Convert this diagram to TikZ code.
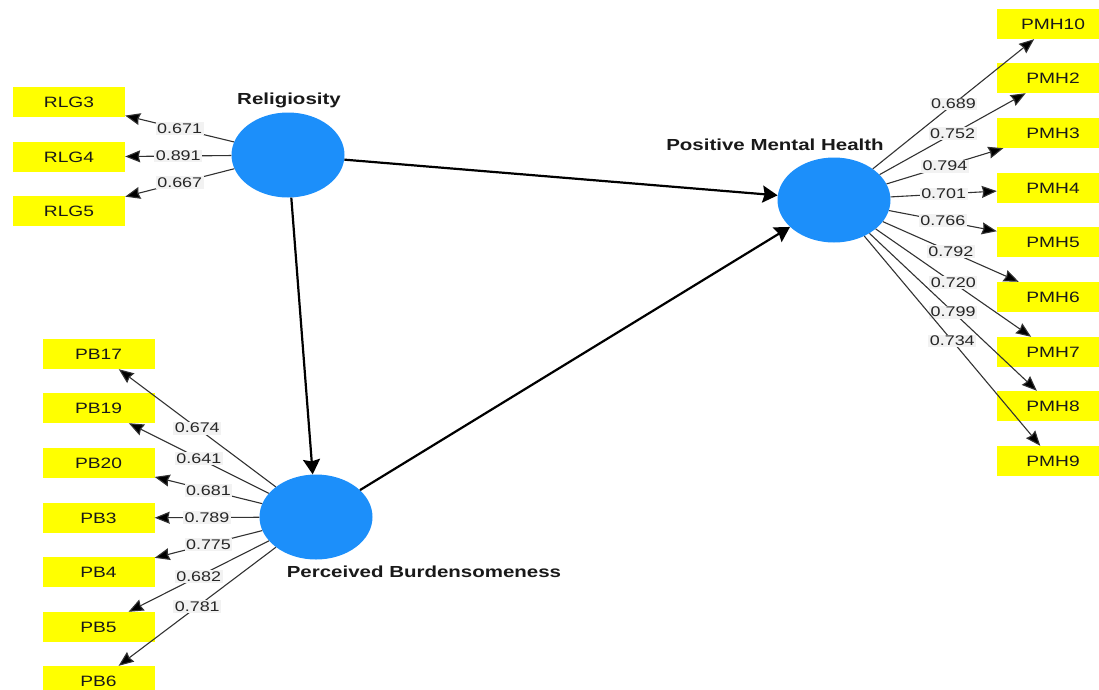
\documentclass[tikz,border=0pt]{standalone}
\usepackage{fontspec}
\setmainfont{Liberation Sans}[FakeStretch=1.28]
\usetikzlibrary{arrows.meta,shapes.geometric}
\definecolor{lvblue}{RGB}{28,143,250}
\definecolor{mvyellow}{RGB}{255,255,0}
\definecolor{linegray}{RGB}{50,50,50}
\definecolor{labbg}{RGB}{242,242,242}
\begin{document}
\begin{tikzpicture}[x=1pt,y=-1pt,
 lv/.style={ellipse, fill=lvblue, minimum width=113pt, minimum height=85pt, inner sep=0pt},
 mv/.style={rectangle, fill=mvyellow, minimum width=112pt, minimum height=30pt, inner sep=0pt, font=\fontsize{15}{18}\selectfont, text=black!90},
 lvname/.style={font=\fontsize{16}{19}\selectfont\bfseries, text=black!90},
 loadline/.style={draw=linegray, line width=1.1pt, -{Stealth[inset=1.5pt,length=15pt,width=12pt,fill=black]}},
 semline/.style={draw=black, line width=2.2pt, -{Stealth[inset=2pt,length=15pt,width=17pt]}},
 lab/.style={fill=labbg, inner sep=1.5pt, font=\fontsize{14}{16}\selectfont, text=black!85, pos=0.5}]
\useasboundingbox (0,0) rectangle (1099,689);
% latent variables
\node[lv] (rel) at (288,155) {};
\node[lv] (pb) at (316,517) {};
\node[lv] (pmh) at (834,200) {};
\node[lvname] (relname) at (289,100) {Religiosity};
\node[lvname] (pmhname) at (775,145) {Positive Mental Health};
\node[lvname] (pbname) at (424,572) {Perceived Burdensomeness};
% indicators
\foreach \n/\y in {RLG3/102, RLG4/157, RLG5/211}
  \node[mv] (\n) at (69,\y) {\n};
\foreach \n/\y in {PB17/354, PB19/408, PB20/463, PB3/518, PB4/572, PB5/627, PB6/681}
  \node[mv] (\n) at (98.5,\y) {\n};
\foreach \n/\y in {PMH10/24, PMH2/78, PMH3/133, PMH4/188, PMH5/242, PMH6/297, PMH7/352, PMH8/406, PMH9/461}
  \node[mv] (\n) at (1053,\y) {\n};
% structural paths
\draw[semline] (rel) -- (pmh);
\draw[semline] (rel) -- (pb);
\draw[semline] (pb) -- (pmh);
% loadings
\foreach \n/\v in {RLG3/0.671, RLG4/0.891, RLG5/0.667}
  \draw[loadline] (rel) -- node[lab]{\v} (\n);
\foreach \n/\v in {PB17/0.674, PB19/0.641, PB20/0.681, PB3/0.789, PB4/0.775, PB5/0.682, PB6/0.781}
  \draw[loadline] (pb) -- node[lab]{\v} (\n);
\foreach \n/\v in {PMH10/0.689, PMH2/0.752, PMH3/0.794, PMH4/0.701, PMH5/0.766, PMH6/0.792, PMH7/0.720, PMH8/0.799, PMH9/0.734}
  \draw[loadline] (pmh) -- node[lab]{\v} (\n);
\end{tikzpicture}
\end{document}
